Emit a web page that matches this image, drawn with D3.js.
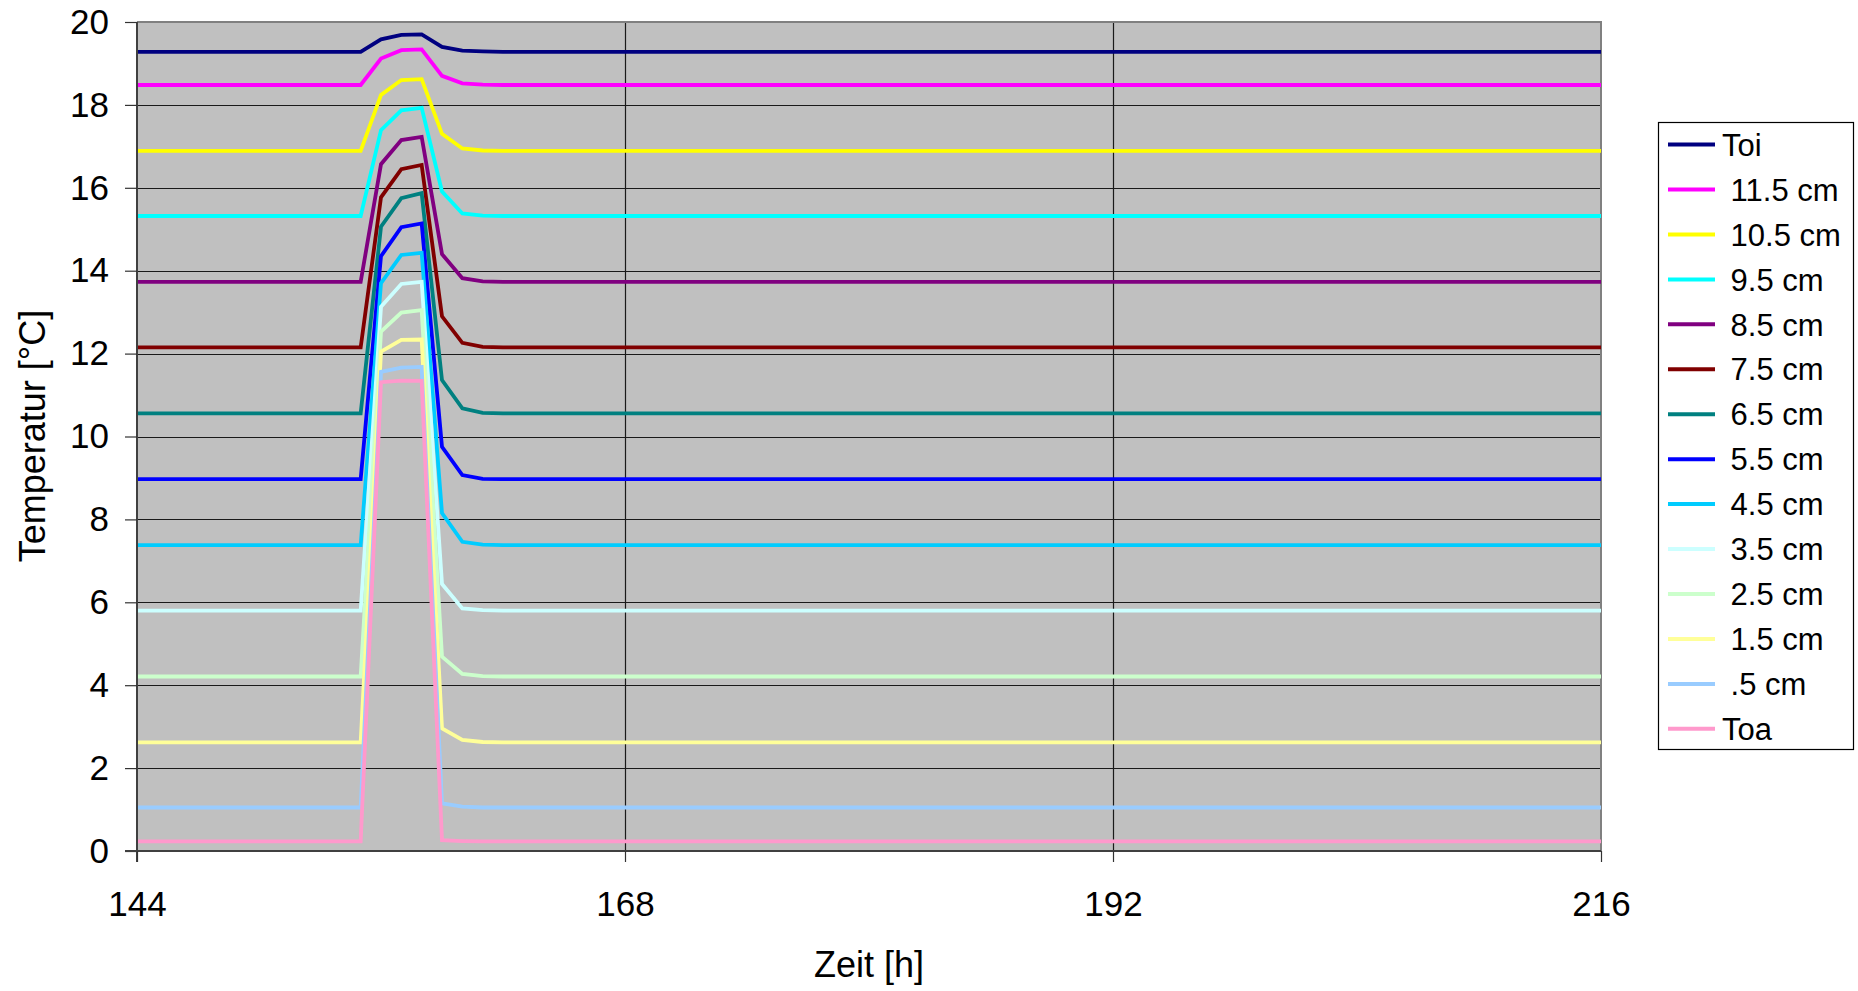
<!DOCTYPE html>
<html>
<head>
<meta charset="utf-8">
<script src="https://cdn.jsdelivr.net/npm/d3@7"></script>
<style>
  html, body { margin: 0; padding: 0; background: #fff; }
  svg text { font-family: "Liberation Sans", Arial, sans-serif; fill: #000; }
</style>
</head>
<body>
<svg id="chart" width="1858" height="991"></svg>
<script>
// ---- data ----
const hours = [144, 155, 156, 157, 158, 159, 160, 161, 162, 216];

const seriesNames = ["Toi", " 11.5 cm", " 10.5 cm", " 9.5 cm", " 8.5 cm", " 7.5 cm", " 6.5 cm",
                     " 5.5 cm", " 4.5 cm", " 3.5 cm", " 2.5 cm", " 1.5 cm", " .5 cm", "Toa"];

const toi   = [19.28, 19.28, 19.58, 19.69, 19.70, 19.40, 19.31, 19.29, 19.28, 19.28];
const cm115 = [18.48, 18.48, 19.12, 19.32, 19.34, 18.70, 18.52, 18.49, 18.48, 18.48];
const cm105 = [16.89, 16.89, 18.24, 18.60, 18.62, 17.30, 16.95, 16.90, 16.89, 16.89];
const cm95  = [15.32, 15.32, 17.39, 17.87, 17.93, 15.91, 15.38, 15.33, 15.32, 15.32];
const cm85  = [13.73, 13.73, 16.57, 17.15, 17.23, 14.40, 13.82, 13.74, 13.73, 13.73];
const cm75  = [12.15, 12.15, 15.77, 16.45, 16.55, 12.90, 12.26, 12.16, 12.15, 12.15];
const cm65  = [10.56, 10.56, 15.06, 15.75, 15.87, 11.36, 10.68, 10.57, 10.56, 10.56];
const cm55  = [8.97, 8.97, 14.35, 15.05, 15.14, 9.75, 9.07, 8.98, 8.97, 8.97];
const cm45  = [7.38, 7.38, 13.70, 14.38, 14.43, 8.15, 7.46, 7.39, 7.38, 7.38];
const cm35  = [5.80, 5.80, 13.13, 13.68, 13.73, 6.44, 5.85, 5.81, 5.80, 5.80];
const cm25  = [4.21, 4.21, 12.53, 12.99, 13.05, 4.69, 4.27, 4.22, 4.21, 4.21];
const cm15  = [2.62, 2.62, 12.05, 12.33, 12.34, 2.96, 2.68, 2.63, 2.62, 2.62];
const cm05  = [1.05, 1.05, 11.56, 11.66, 11.68, 1.15, 1.07, 1.05, 1.05, 1.05];
const toa   = [0.23, 0.23, 11.31, 11.35, 11.34, 0.26, 0.24, 0.23, 0.23, 0.23];

const seriesValues = [toi, cm115, cm105, cm95, cm85, cm75, cm65, cm55, cm45, cm35, cm25, cm15, cm05, toa];
const seriesColors = ["#000080", "#FF00FF", "#FFFF00", "#00FFFF", "#800080", "#800000", "#008080",
                      "#0000FF", "#00CCFF", "#CCFFFF", "#CCFFCC", "#FFFF99", "#99CCFF", "#FF99CC"];

const xTicks = [144, 168, 192, 216];
const yTicks = [0, 2, 4, 6, 8, 10, 12, 14, 16, 18, 20];
const xTitle = "Zeit [h]";
const yTitle = "Temperatur [°C]";

// ---- layout ----
const svg = d3.select("#chart");
const plot = { left: 137, right: 1601, top: 22, bottom: 851 };

const x = d3.scaleLinear().domain([144, 216]).range([plot.left, plot.right]);
const y = d3.scaleLinear().domain([0, 20]).range([plot.bottom, plot.top]);

svg.append("rect").attr("width", 1858).attr("height", 991).attr("fill", "#fff");

// plot area
svg.append("rect")
  .attr("x", plot.left).attr("y", plot.top)
  .attr("width", plot.right - plot.left).attr("height", plot.bottom - plot.top)
  .attr("fill", "#C0C0C0");

// horizontal gridlines
svg.append("g")
  .selectAll("line").data(yTicks.filter(d => d > 0 && d < 20)).join("line")
  .attr("x1", plot.left).attr("x2", plot.right)
  .attr("y1", d => Math.round(y(d)) + 0.5).attr("y2", d => Math.round(y(d)) + 0.5)
  .attr("stroke", "#1a1a1a").attr("stroke-width", 1.2);

// vertical gridlines
svg.append("g")
  .selectAll("line").data(xTicks.filter(d => d > 144 && d < 216)).join("line")
  .attr("y1", plot.top).attr("y2", plot.bottom)
  .attr("x1", d => Math.round(x(d)) + 0.5).attr("x2", d => Math.round(x(d)) + 0.5)
  .attr("stroke", "#1a1a1a").attr("stroke-width", 1.2);

// plot border (top/right)
svg.append("path")
  .attr("d", `M${plot.left},${plot.top}H${plot.right}V${plot.bottom}`)
  .attr("fill", "none").attr("stroke", "#808080").attr("stroke-width", 2);

// series lines
const line = d3.line().x((d, i) => x(hours[i])).y(d => y(d));
svg.append("g")
  .selectAll("path").data(seriesValues).join("path")
  .attr("d", d => line(d))
  .attr("fill", "none")
  .attr("stroke", (d, i) => seriesColors[i])
  .attr("stroke-width", 3.8)
  .attr("stroke-linejoin", "miter");

// axes
const yAxis = d3.axisLeft(y).tickValues(yTicks).tickSize(12).tickPadding(16).tickFormat(d3.format("d"));
const gy = svg.append("g").attr("transform", `translate(${plot.left},0)`).call(yAxis);
gy.select(".domain").attr("stroke", "#404040").attr("stroke-width", 2).attr("d", `M0,${plot.top}V${plot.bottom + 11}`);
gy.selectAll(".tick line").attr("stroke", "#333").attr("stroke-width", 1.2);
gy.selectAll(".tick text").attr("font-size", 35).attr("font-family", "Liberation Sans, Arial, sans-serif").attr("fill", "#000");

const xAxis = d3.axisBottom(x).tickValues(xTicks).tickSize(11).tickPadding(29).tickFormat(d3.format("d"));
const gx = svg.append("g").attr("transform", `translate(0,${plot.bottom})`).call(xAxis);
gx.select(".domain").attr("stroke", "#404040").attr("stroke-width", 2).attr("d", `M${plot.left - 12},0H${plot.right}`);
gx.selectAll(".tick line").attr("stroke", "#333").attr("stroke-width", 1.2);
gx.selectAll(".tick text").attr("font-size", 35).attr("font-family", "Liberation Sans, Arial, sans-serif").attr("fill", "#000");

// axis titles
svg.append("text")
  .attr("x", (plot.left + plot.right) / 2).attr("y", 977)
  .attr("text-anchor", "middle").attr("font-size", 36)
  .text(xTitle);

svg.append("text")
  .attr("transform", `translate(45,436) rotate(-90)`)
  .attr("text-anchor", "middle").attr("font-size", 36)
  .text(yTitle);

// legend
const legend = { x: 1658, y: 122, w: 195, h: 627, first: 144.6, step: 44.94 };
svg.append("rect")
  .attr("x", legend.x + 0.5).attr("y", legend.y + 0.5)
  .attr("width", legend.w).attr("height", legend.h)
  .attr("fill", "#fff").attr("stroke", "#000").attr("stroke-width", 1.2);

const lg = svg.append("g").selectAll("g").data(seriesNames).join("g")
  .attr("transform", (d, i) => `translate(0,${legend.first + i * legend.step})`);
lg.append("line")
  .attr("x1", 1668).attr("x2", 1715).attr("y1", 0).attr("y2", 0)
  .attr("stroke", (d, i) => seriesColors[i]).attr("stroke-width", 4);
lg.append("text")
  .attr("x", 1722).attr("y", 0).attr("dy", "0.36em")
  .attr("font-size", 31)
  .style("white-space", "pre")
  .text(d => d);
</script>
</body>
</html>
